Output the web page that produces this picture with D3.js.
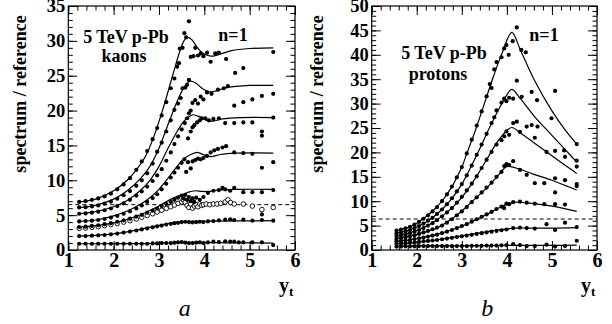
<!DOCTYPE html>
<html>
<head>
<meta charset="utf-8">
<script src="https://cdn.jsdelivr.net/npm/d3@7"></script>
<style>
  body { margin: 0; background: #fff; }
  svg text { font-family: "Liberation Serif", "Times New Roman", "DejaVu Serif", serif; }
</style>
</head>
<body>
<svg id="chart" width="612" height="324"></svg>
<script>
// ---- kaons: model curves (y_t, ratio) ----
const kaonCurve1 = [[1.24,0.9],[2.0,0.9],[3.0,0.95],[3.5,1.05],[4.0,1.05],[5.52,1.0]];
const kaonCurve2 = [[1.24,2.0],[1.6,2.1],[2.0,2.3],[2.3,2.6],[2.6,3.0],[2.9,3.4],[3.2,3.8],[3.5,4.0],[3.8,4.1],[4.2,4.15],[5.52,4.2]];
const kaonCurve3 = [[1.24,3.3],[1.6,3.5],[2.0,3.9],[2.3,4.4],[2.6,5.1],[2.9,6.0],[3.1,6.7],[3.3,7.4],[3.5,7.9],[3.65,8.3],[3.8,8.5],[3.95,8.4],[4.1,8.4],[4.3,8.6],[4.7,8.7],[5.52,8.7]];
const kaonCurve4 = [[1.24,4.1],[1.6,4.3],[2.0,4.9],[2.3,5.6],[2.6,6.6],[2.8,7.5],[3.0,8.7],[3.2,10.3],[3.4,12.0],[3.55,13.1],[3.7,13.7],[3.85,14.0],[4.0,13.6],[4.15,13.4],[4.35,13.7],[4.7,13.9],[5.52,13.9]];
const kaonCurve5 = [[1.24,5.2],[1.6,5.5],[2.0,6.2],[2.3,7.1],[2.6,8.6],[2.8,10.0],[3.0,12.0],[3.2,14.6],[3.4,17.0],[3.55,18.5],[3.68,19.2],[3.76,19.4],[3.9,19.1],[4.05,18.6],[4.2,18.5],[4.4,18.8],[4.8,19.0],[5.52,19.0]];
const kaonCurve6 = [[1.24,6.1],[1.6,6.4],[2.0,7.3],[2.3,8.5],[2.6,10.3],[2.8,12.0],[3.0,14.6],[3.2,18.0],[3.4,21.3],[3.55,23.3],[3.68,24.2],[3.8,24.0],[3.95,23.2],[4.1,22.7],[4.25,22.8],[4.5,23.3],[5.0,23.6],[5.52,23.6]];
const kaonCurve7 = [[1.24,6.9],[1.6,7.3],[2.0,8.5],[2.3,10.0],[2.5,11.5],[2.7,13.4],[2.9,16.5],[3.1,20.5],[3.3,25.0],[3.45,28.3],[3.55,30.0],[3.62,30.5],[3.72,30.2],[3.85,29.0],[4.0,28.1],[4.15,27.8],[4.3,28.0],[4.6,28.6],[5.0,28.9],[5.52,29.0]];

// ---- kaons: data points ----
const kaonPts1 = [[1.24,0.9],[1.38,0.9],[1.52,0.9],[1.66,0.9],[1.80,0.9],[1.94,0.9],[2.08,0.9],[2.22,0.9],[2.36,0.9],[2.50,0.9],[2.62,0.9],[2.74,0.9],[2.86,0.95],[2.96,0.95],[3.06,1.0],[3.16,1.0],[3.26,1.0],[3.34,1.05],[3.42,1.1],[3.50,1.15],[3.58,1.05],[3.66,1.0],[3.74,1.0],[3.82,1.05],[3.90,1.1],[3.98,1.0],[4.08,1.1],[4.20,1.2],[4.32,1.15],[4.46,1.25],[4.57,1.2],[4.66,1.2],[4.76,1.1],[4.86,1.1],[5.06,1.1],[5.27,1.1],[5.52,0.7]];
const kaonPts2 = [[1.24,2.0],[1.38,2.0],[1.52,2.05],[1.66,2.1],[1.80,2.15],[1.94,2.25],[2.08,2.35],[2.22,2.5],[2.36,2.65],[2.50,2.8],[2.62,2.95],[2.74,3.1],[2.86,3.25],[2.96,3.4],[3.06,3.5],[3.16,3.65],[3.26,3.75],[3.34,3.85],[3.42,3.9],[3.50,4.0],[3.58,4.05],[3.66,4.0],[3.74,3.95],[3.82,4.0],[3.90,4.05],[3.98,4.0],[4.08,4.1],[4.20,4.15],[4.32,4.25],[4.46,4.35],[4.57,4.4],[4.66,4.3],[4.86,4.35],[5.06,4.2],[5.27,4.3],[5.27,5.1],[5.52,4.2]];
const kaonPts3 = [[1.24,3.3],[1.38,3.35],[1.52,3.45],[1.66,3.55],[1.80,3.7],[1.94,3.85],[2.08,4.05],[2.22,4.25],[2.36,4.5],[2.50,4.8],[2.62,5.05],[2.74,5.35],[2.86,5.65],[2.96,5.95],[3.06,6.3],[3.16,6.6],[3.26,6.9],[3.34,7.2],[3.42,7.5],[3.50,7.8],[3.54,7.4],[3.58,7.9],[3.62,7.2],[3.66,7.6],[3.70,7.0],[3.74,7.4],[3.78,6.9],[3.82,7.5],[3.90,7.2],[3.98,7.6],[4.08,8.2],[4.20,8.5],[4.32,8.6],[4.40,8.9],[4.46,8.7],[4.57,8.5],[4.66,8.9],[4.86,8.3],[5.06,8.3],[5.27,8.3],[5.52,8.6]];
const kaonPts4 = [[1.24,4.1],[1.38,4.15],[1.52,4.2],[1.66,4.3],[1.80,4.45],[1.94,4.65],[2.08,4.9],[2.22,5.2],[2.36,5.55],[2.50,5.95],[2.62,6.4],[2.74,6.9],[2.86,7.45],[2.96,8.0],[3.06,8.7],[3.16,9.5],[3.26,10.4],[3.34,11.1],[3.42,11.8],[3.50,12.5],[3.56,13.0],[3.60,11.2],[3.64,12.6],[3.70,11.7],[3.74,12.7],[3.80,12.9],[3.86,13.1],[3.92,13.0],[3.98,13.2],[4.06,13.5],[4.14,14.0],[4.22,14.3],[4.30,14.5],[4.40,14.7],[4.48,14.9],[4.66,14.0],[4.86,13.9],[5.06,13.8],[5.27,11.8],[5.52,12.6]];
const kaonPts5 = [[1.24,5.2],[1.38,5.25],[1.52,5.35],[1.66,5.5],[1.80,5.7],[1.94,5.95],[2.08,6.3],[2.22,6.7],[2.36,7.2],[2.50,7.8],[2.62,8.4],[2.74,9.1],[2.86,9.9],[2.96,10.7],[3.06,11.6],[3.16,12.8],[3.26,14.0],[3.34,15.2],[3.42,16.3],[3.50,17.3],[3.57,18.2],[3.62,18.9],[3.66,19.6],[3.64,16.0],[3.70,17.0],[3.74,17.6],[3.78,17.9],[3.84,18.3],[3.90,18.6],[3.94,18.9],[4.02,18.9],[4.10,18.6],[4.20,18.8],[4.32,18.9],[4.46,18.2],[4.66,18.2],[4.86,18.3],[5.06,18.3],[5.27,17.0],[5.27,16.4],[5.52,19.0]];
const kaonPts6 = [[1.24,6.1],[1.38,6.15],[1.52,6.25],[1.66,6.4],[1.80,6.65],[1.94,6.95],[2.08,7.35],[2.22,7.85],[2.36,8.45],[2.50,9.2],[2.62,10.0],[2.74,11.0],[2.86,12.4],[2.96,14.1],[3.06,15.4],[3.16,17.0],[3.26,18.6],[3.34,20.1],[3.42,21.0],[3.48,21.8],[3.52,23.2],[3.58,23.3],[3.62,23.7],[3.66,24.4],[3.70,20.0],[3.74,21.1],[3.80,21.5],[3.86,21.0],[3.92,22.0],[3.98,21.6],[4.06,22.6],[4.16,22.4],[4.30,23.0],[4.43,23.2],[4.52,23.5],[4.66,20.7],[4.86,21.2],[5.06,21.6],[5.27,22.1],[5.52,22.4]];
const kaonPts7 = [[1.24,6.9],[1.38,7.0],[1.52,7.2],[1.66,7.4],[1.80,7.7],[1.94,8.1],[2.08,8.7],[2.22,9.4],[2.36,10.3],[2.50,11.5],[2.62,12.7],[2.74,14.2],[2.86,15.9],[2.96,17.5],[3.06,19.3],[3.16,21.2],[3.26,23.2],[3.34,24.6],[3.40,26.3],[3.46,28.9],[3.52,29.0],[3.56,31.1],[3.60,30.5],[3.66,32.8],[3.44,26.8],[3.70,27.7],[3.76,27.8],[3.80,29.0],[3.86,27.9],[3.92,28.2],[3.98,27.8],[4.06,28.3],[4.14,27.0],[4.24,28.2],[4.32,28.3],[4.48,27.4],[4.68,25.4],[4.86,26.1],[5.52,28.4]];
const kaonOpen = [[1.24,3.1],[1.38,3.15],[1.52,3.25],[1.66,3.35],[1.80,3.5],[1.94,3.65],[2.08,3.8],[2.22,4.0],[2.36,4.2],[2.50,4.45],[2.62,4.7],[2.74,4.95],[2.86,5.2],[2.96,5.45],[3.06,5.7],[3.16,5.95],[3.26,6.2],[3.34,6.45],[3.42,6.7],[3.50,6.9],[3.54,7.2],[3.58,6.8],[3.62,6.4],[3.66,6.1],[3.70,6.6],[3.74,6.0],[3.78,6.3],[3.82,6.5],[3.86,6.2],[3.90,6.6],[3.94,6.4],[3.98,6.5],[4.04,6.6],[4.12,6.5],[4.20,6.6],[4.28,6.6],[4.36,6.7],[4.46,6.9],[4.52,7.2],[4.58,6.8],[4.66,6.6],[4.86,6.6],[5.06,6.3],[5.27,5.8],[5.52,6.1]];

// ---- protons: model curves ----
const protonCurve1 = [[1.55,0.8],[2.0,0.85],[3.0,0.85],[3.5,0.9],[4.0,0.95],[4.5,0.95],[5.0,0.95],[5.55,1.0]];
const protonCurve2 = [[1.55,1.3],[1.8,1.4],[2.0,1.6],[2.2,1.8],[2.4,2.0],[2.6,2.3],[2.8,2.6],[3.0,2.9],[3.2,3.2],[3.4,3.5],[3.6,3.8],[3.8,4.1],[4.0,4.3],[4.2,4.5],[4.5,4.5],[5.0,4.5],[5.55,4.6]];
const protonCurve3 = [[1.55,1.8],[1.8,2.0],[2.0,2.3],[2.2,2.7],[2.4,3.1],[2.6,3.6],[2.8,4.2],[3.0,4.9],[3.2,5.7],[3.4,6.6],[3.6,7.5],[3.8,8.5],[4.0,9.4],[4.2,9.8],[4.5,9.6],[5.0,9.0],[5.55,7.9]];
const protonCurve4 = [[1.55,2.4],[1.8,2.8],[2.0,3.2],[2.2,3.7],[2.4,4.3],[2.6,5.3],[2.8,6.5],[3.0,8.0],[3.2,9.7],[3.4,11.4],[3.6,13.2],[3.8,15.2],[4.0,17.1],[4.3,16.5],[4.6,15.5],[5.0,14.3],[5.3,13.2],[5.55,12.3]];
const protonCurve5 = [[1.55,2.9],[1.8,3.4],[2.0,4.0],[2.2,4.8],[2.4,5.9],[2.6,7.2],[2.8,8.8],[3.0,10.8],[3.2,13.3],[3.4,16.2],[3.6,19.3],[3.8,22.3],[4.0,24.5],[4.11,25.1],[4.3,24.0],[4.6,22.0],[5.0,19.3],[5.3,17.3],[5.55,15.7]];
const protonCurve6 = [[1.55,3.5],[1.8,4.0],[2.0,4.7],[2.2,5.7],[2.4,7.0],[2.6,8.7],[2.8,10.8],[3.0,13.5],[3.2,17.0],[3.4,20.8],[3.6,24.8],[3.8,28.5],[4.0,31.8],[4.11,32.9],[4.3,31.0],[4.6,27.5],[5.0,23.5],[5.3,20.5],[5.55,18.0]];
const protonCurve7 = [[1.55,4.0],[1.8,4.6],[2.0,5.5],[2.2,6.8],[2.4,8.4],[2.6,10.5],[2.8,13.3],[3.0,17.0],[3.1,19.5],[3.3,24.5],[3.5,30.0],[3.7,35.5],[3.9,40.5],[4.11,44.6],[4.3,41.0],[4.6,35.0],[5.0,28.5],[5.3,24.5],[5.55,21.7]];

// ---- protons: data points ----
const protonPts1 = [[1.55,0.7],[1.65,0.7],[1.75,0.75],[1.85,0.75],[1.95,0.75],[2.05,0.8],[2.15,0.8],[2.25,0.8],[2.35,0.8],[2.45,0.8],[2.56,0.8],[2.67,0.8],[2.78,0.8],[2.89,0.8],[3.0,0.8],[3.11,0.8],[3.22,0.85],[3.33,0.85],[3.44,0.85],[3.55,0.9],[3.66,0.9],[3.77,0.9],[3.88,0.95],[3.99,1.0],[4.14,1.2],[4.29,1.0],[4.44,0.8],[4.62,0.8],[4.88,1.1],[5.07,0.7],[5.29,0.8],[5.55,1.9]];
const protonPts2 = [[1.55,1.3],[1.65,1.35],[1.75,1.4],[1.85,1.5],[1.95,1.55],[2.05,1.65],[2.15,1.75],[2.25,1.85],[2.35,1.95],[2.45,2.05],[2.56,2.2],[2.67,2.35],[2.78,2.5],[2.89,2.65],[3.0,2.8],[3.11,2.95],[3.22,3.1],[3.33,3.3],[3.44,3.45],[3.55,3.6],[3.66,3.75],[3.77,3.9],[3.88,4.05],[3.99,4.2],[4.14,4.5],[4.29,4.6],[4.44,4.5],[4.62,4.4],[4.88,5.3],[5.07,4.1],[5.29,5.6],[5.55,4.7]];
const protonPts3 = [[1.55,1.8],[1.65,1.9],[1.75,2.0],[1.85,2.1],[1.95,2.25],[2.05,2.4],[2.15,2.55],[2.25,2.75],[2.35,2.95],[2.45,3.15],[2.56,3.45],[2.67,3.75],[2.78,4.1],[2.89,4.5],[3.0,4.9],[3.11,5.3],[3.22,5.8],[3.33,6.3],[3.44,6.8],[3.55,7.3],[3.66,7.8],[3.77,8.4],[3.88,8.9],[3.94,8.6],[3.99,9.5],[4.05,9.4],[4.14,9.8],[4.29,9.9],[4.44,9.7],[4.62,9.5],[4.83,9.4],[5.07,9.4],[5.29,9.3]];
const protonPts4 = [[1.55,2.3],[1.65,2.45],[1.75,2.6],[1.85,2.8],[1.95,3.0],[2.05,3.3],[2.15,3.6],[2.25,3.9],[2.35,4.25],[2.45,4.6],[2.56,5.0],[2.67,5.6],[2.78,6.3],[2.89,7.1],[3.0,7.9],[3.11,8.8],[3.22,9.8],[3.33,10.8],[3.44,11.8],[3.55,12.8],[3.66,13.8],[3.77,15.0],[3.88,16.0],[3.94,17.2],[3.99,17.6],[4.05,17.4],[4.14,18.2],[4.29,16.4],[4.44,15.4],[4.62,13.7],[4.83,13.7],[5.07,14.7],[5.07,11.8],[5.29,14.3],[5.55,13.5],[5.55,13.1]];
const protonPts5 = [[1.55,2.85],[1.65,3.0],[1.75,3.2],[1.85,3.45],[1.95,3.75],[2.05,4.1],[2.15,4.5],[2.25,5.0],[2.35,5.5],[2.45,6.1],[2.56,6.9],[2.67,7.7],[2.78,8.6],[2.89,9.7],[3.0,10.9],[3.11,12.2],[3.22,13.6],[3.33,15.1],[3.44,16.8],[3.55,18.5],[3.66,20.1],[3.77,21.6],[3.88,22.5],[3.94,23.3],[3.99,24.3],[4.05,23.6],[4.14,26.0],[4.22,26.3],[4.29,24.2],[4.44,25.3],[4.55,25.6],[4.68,25.3],[4.62,23.0],[4.88,20.1],[5.07,20.3],[5.29,19.1],[5.55,17.1]];
const protonPts6 = [[1.55,3.4],[1.65,3.6],[1.75,3.85],[1.85,4.1],[1.95,4.5],[2.05,4.9],[2.15,5.4],[2.25,6.0],[2.35,6.6],[2.45,7.4],[2.56,8.3],[2.67,9.4],[2.78,10.6],[2.89,12.0],[3.0,13.5],[3.11,15.3],[3.22,17.3],[3.33,19.5],[3.44,21.6],[3.55,23.8],[3.66,26.0],[3.72,27.2],[3.77,28.6],[3.88,30.2],[3.94,31.0],[3.99,30.5],[4.05,31.2],[4.14,31.0],[4.22,34.7],[4.33,31.4],[4.55,32.4],[4.67,30.7],[4.99,27.0],[5.27,20.4],[5.55,18.3]];
const protonPts7 = [[1.55,4.0],[1.65,4.2],[1.75,4.45],[1.85,4.75],[1.95,5.2],[2.05,5.75],[2.15,6.4],[2.25,7.1],[2.35,7.9],[2.45,8.8],[2.56,10.0],[2.67,11.4],[2.78,13.0],[2.89,14.9],[3.0,17.0],[3.11,19.8],[3.22,22.6],[3.33,25.5],[3.44,28.4],[3.55,31.5],[3.62,34.0],[3.66,33.2],[3.72,37.0],[3.77,38.5],[3.88,39.5],[3.94,41.3],[3.99,42.0],[4.04,40.0],[4.13,42.8],[4.22,45.6],[4.32,41.0],[4.42,40.5],[5.07,32.6],[5.55,21.7]];

// ---- axis ticks ----
const xMajor = [1, 2, 3, 4, 5, 6];
const kaonYTicks = [0, 5, 10, 15, 20, 25, 30, 35];
const protonYTicks = [0, 5, 10, 15, 20, 25, 30, 35, 40, 45, 50];

const svg = d3.select('#chart');
const plotTop = 6, plotBottom = 250;
const serif = '"Liberation Serif", "Times New Roman", "DejaVu Serif", serif';

function drawPanel(cfg) {
  const x = d3.scaleLinear().domain([1, 6]).range([cfg.left, cfg.right]);
  const y = d3.scaleLinear().domain([0, cfg.yMax]).range([plotBottom, plotTop]);
  const g = svg.append('g').attr('font-family', serif);

  const xMinor = d3.range(0, 26).map(i => 1 + i * 0.2);
  const yMinor = d3.range(0, cfg.yMax + 1);
  const fmt = d3.format('d');

  // inward ticks on all four sides: [axis, transform, label size]
  const axes = [
    [d3.axisBottom(x).tickValues(xMajor).tickSize(-9).tickPadding(3).tickFormat(fmt), `translate(0,${plotBottom})`, 20],
    [d3.axisBottom(x).tickValues(xMinor).tickSize(-4.5).tickFormat(''), `translate(0,${plotBottom})`, 0],
    [d3.axisTop(x).tickValues(xMajor).tickSize(-9).tickFormat(''), `translate(0,${plotTop})`, 0],
    [d3.axisTop(x).tickValues(xMinor).tickSize(-4.5).tickFormat(''), `translate(0,${plotTop})`, 0],
    [d3.axisLeft(y).tickValues(cfg.yTicks).tickSize(-9).tickPadding(3).tickFormat(fmt), `translate(${cfg.left},0)`, 18.5],
    [d3.axisLeft(y).tickValues(yMinor).tickSize(-4.5).tickFormat(''), `translate(${cfg.left},0)`, 0],
    [d3.axisRight(y).tickValues(cfg.yTicks).tickSize(-9).tickFormat(''), `translate(${cfg.right},0)`, 0],
    [d3.axisRight(y).tickValues(yMinor).tickSize(-4.5).tickFormat(''), `translate(${cfg.right},0)`, 0]
  ];
  axes.forEach(([axis, tr, size]) => {
    const a = g.append('g').attr('transform', tr).call(axis)
        .attr('font-family', serif).attr('font-size', size || 10).attr('font-weight', 'bold');
    a.select('.domain').remove();
    a.selectAll('line').attr('stroke', '#000').attr('stroke-width', 1);
    if (size) a.selectAll('text').attr('fill', '#000');
  });

  // frame
  g.append('rect')
      .attr('x', cfg.left).attr('y', plotTop)
      .attr('width', cfg.right - cfg.left).attr('height', plotBottom - plotTop)
      .attr('fill', 'none').attr('stroke', '#000').attr('stroke-width', 1.2);

  // dashed reference line
  g.append('line')
      .attr('x1', x(1)).attr('x2', x(6))
      .attr('y1', y(cfg.dashed)).attr('y2', y(cfg.dashed))
      .attr('stroke', '#000').attr('stroke-width', 1)
      .attr('stroke-dasharray', '4,3');

  // model curves
  const line = d3.line()
      .x(d => x(d[0]))
      .y(d => y(d[1]))
      .curve(d3.curveCatmullRom.alpha(0.5));
  g.selectAll('path.curve')
      .data(cfg.curves)
      .join('path')
      .attr('class', 'curve')
      .attr('d', line)
      .attr('fill', 'none')
      .attr('stroke', '#000')
      .attr('stroke-width', 1.2);

  // open points
  if (cfg.open) {
    g.selectAll('circle.open')
        .data(cfg.open)
        .join('circle')
        .attr('class', 'open')
        .attr('cx', d => x(d[0]))
        .attr('cy', d => y(d[1]))
        .attr('r', 2.3)
        .attr('fill', '#fff')
        .attr('stroke', '#000')
        .attr('stroke-width', 0.9);
  }

  // filled points
  g.selectAll('circle.dot')
      .data(cfg.points.flat())
      .join('circle')
      .attr('class', 'dot')
      .attr('cx', d => x(d[0]))
      .attr('cy', d => y(d[1]))
      .attr('r', 2.1)
      .attr('fill', '#000');

  // y axis title
  g.append('text')
      .attr('transform', `translate(${cfg.titleX},94) rotate(-90)`)
      .attr('text-anchor', 'middle')
      .attr('font-size', 18)
      .attr('font-weight', 'bold')
      .text('spectrum / reference');

  // x axis title y_t
  const xt = g.append('text')
      .attr('x', cfg.right - 16).attr('y', 292)
      .attr('font-size', 20)
      .attr('font-weight', 'bold')
      .text('y');
  xt.append('tspan')
      .attr('dy', 4)
      .attr('font-size', 13)
      .text('t');

  // panel letter
  g.append('text')
      .attr('x', (cfg.left + cfg.right) / 2 + 3).attr('y', 316)
      .attr('text-anchor', 'middle')
      .attr('font-size', 24)
      .attr('font-style', 'italic')
      .text(cfg.letter);

  // annotations
  cfg.notes.forEach(n => {
    g.append('text')
        .attr('x', n.x).attr('y', n.y)
        .attr('text-anchor', 'middle')
        .attr('font-size', 18)
        .attr('font-weight', 'bold')
        .text(n.t);
  });
}

drawPanel({
  left: 68.3, right: 295, yMax: 35, yTicks: kaonYTicks, dashed: 6.5,
  curves: [kaonCurve1, kaonCurve2, kaonCurve3, kaonCurve4, kaonCurve5, kaonCurve6, kaonCurve7],
  points: [kaonPts1, kaonPts2, kaonPts3, kaonPts4, kaonPts5, kaonPts6, kaonPts7],
  open: kaonOpen,
  titleX: 26, letter: 'a',
  notes: [{t: '5 TeV p-Pb', x: 126, y: 43}, {t: 'kaons', x: 124, y: 62}, {t: 'n=1', x: 233, y: 41}]
});

drawPanel({
  left: 371.7, right: 597, yMax: 50, yTicks: protonYTicks, dashed: 6.35,
  curves: [protonCurve1, protonCurve2, protonCurve3, protonCurve4, protonCurve5, protonCurve6, protonCurve7],
  points: [protonPts1, protonPts2, protonPts3, protonPts4, protonPts5, protonPts6, protonPts7],
  open: null,
  titleX: 323, letter: 'b',
  notes: [{t: '5 TeV p-Pb', x: 444, y: 59}, {t: 'protons', x: 438, y: 80}, {t: 'n=1', x: 544, y: 41}]
});
</script>
</body>
</html>
